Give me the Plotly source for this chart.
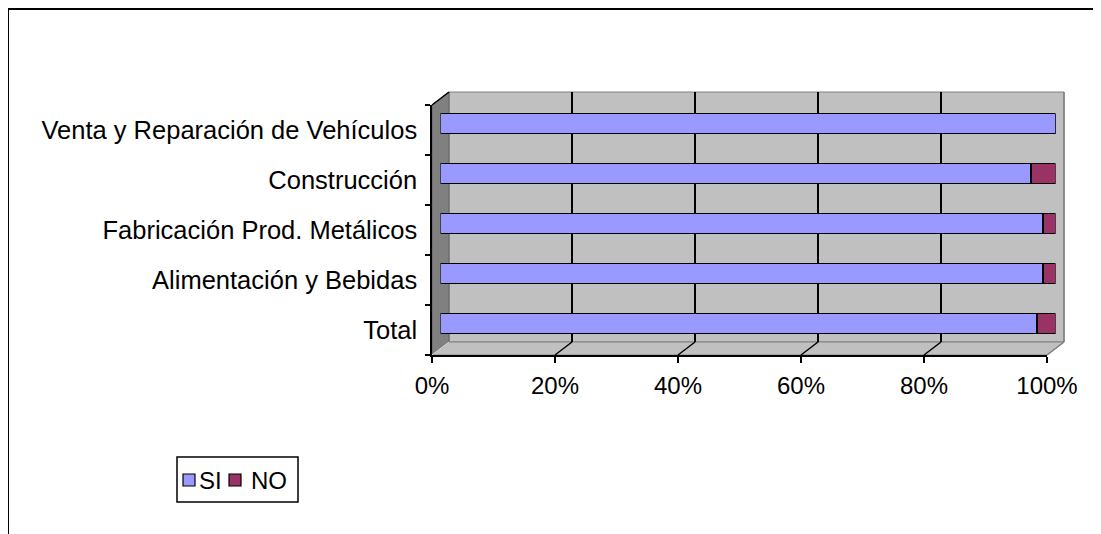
import plotly.graph_objects as go

categories = ["Total", "Alimentación y Bebidas", "Fabricación Prod. Metálicos",
              "Construcción", "Venta y Reparación de Vehículos"]
si_values = [97.0, 98.0, 98.0, 96.0, 100.0]
no_values = [3.0, 2.0, 2.0, 4.0, 0.0]
x_ticks = [0, 20, 40, 60, 80, 100]
x_tick_labels = ["0%", "20%", "40%", "60%", "80%", "100%"]
legend_names = ["SI", "NO"]
series_colors = ["#9999FF", "#993366"]

W, H = 1101, 534
OFF = 8  # page body margin
def px(x):
    return (x - OFF) / W
def py(y):
    return 1 - (y - OFF) / H

# geometry (screen pixels)
FX0, FX1, FY0, FY1 = 432, 1047, 105, 355   # front plane
DX, DY = 17, -13                           # depth offset
MX0, MX1 = FX0 + DX / 2, FX1 + DX / 2
MY0, MY1 = FY0 + DY / 2, FY1 + DY / 2
BX0, BX1, BY0, BY1 = FX0 + DX, FX1 + DX, FY0 + DY, FY1 + DY

FONT = "Liberation Sans, Arial, sans-serif"
FS = 24
fig = go.Figure()

# subplot 1: back wall grid ; subplot 2: front axes ; subplot 3: bars
fig.add_trace(go.Scatter(x=[None], y=[None], xaxis="x", yaxis="y", showlegend=False))
fig.add_trace(go.Scatter(x=[None], y=[None], xaxis="x2", yaxis="y2", showlegend=False))
for name, vals, col in zip(legend_names, [si_values, no_values], series_colors):
    fig.add_trace(go.Bar(y=categories, x=vals, name=name, orientation="h",
                         marker=dict(color=col, line=dict(color="black", width=1.6)),
                         width=0.4, xaxis="x3", yaxis="y3", showlegend=False))

shapes = []
# outer border
shapes.append(dict(type="rect", xref="paper", yref="paper", x0=px(8), x1=px(1130),
                   y0=py(580), y1=py(9), line=dict(color="black", width=2), layer="below"))
# back wall
shapes.append(dict(type="rect", xref="paper", yref="paper", x0=px(BX0), x1=px(BX1),
                   y0=py(BY1), y1=py(BY0), fillcolor="#C0C0C0",
                   line=dict(color="#808080", width=1), layer="below"))
# left wall
shapes.append(dict(type="path", xref="paper", yref="paper",
                   path=f"M {px(FX0)} {py(FY0)} L {px(BX0)} {py(BY0)} L {px(BX0)} {py(BY1)} L {px(FX0)} {py(FY1)} Z",
                   fillcolor="#808080", line=dict(color="#606060", width=1), layer="below"))
# floor
shapes.append(dict(type="path", xref="paper", yref="paper",
                   path=f"M {px(FX0)} {py(FY1)} L {px(FX1)} {py(FY1)} L {px(BX1)} {py(BY1)} L {px(BX0)} {py(BY1)} Z",
                   fillcolor="#C0C0C0", line=dict(color="#808080", width=1), layer="below"))
# floor diagonals at gridlines
for t in x_ticks[1:]:
    fx = FX0 + (FX1 - FX0) * t / 100
    col = "black" if t < 100 else "#808080"
    shapes.append(dict(type="line", xref="paper", yref="paper",
                       x0=px(fx), y0=py(FY1), x1=px(fx + DX), y1=py(FY1 + DY),
                       line=dict(color=col, width=1.5), layer="below"))
shapes.append(dict(type="line", xref="paper", yref="paper",
                   x0=px(FX0), y0=py(FY1), x1=px(BX0), y1=py(BY1),
                   line=dict(color="#E0E0E0", width=1), layer="below"))
# top-left diagonal edge
shapes.append(dict(type="line", xref="paper", yref="paper",
                   x0=px(FX0), y0=py(FY0), x1=px(BX0), y1=py(BY0),
                   line=dict(color="black", width=1.5)))
# right wall edge
shapes.append(dict(type="line", xref="paper", yref="paper",
                   x0=px(BX1), y0=py(BY0), x1=px(BX1), y1=py(BY1),
                   line=dict(color="#808080", width=1.5), layer="below"))

# custom legend box
LX0, LX1, LY0, LY1 = 177, 298, 457, 502
shapes.append(dict(type="rect", xref="paper", yref="paper", x0=px(LX0), x1=px(LX1),
                   y0=py(LY1), y1=py(LY0), line=dict(color="black", width=1.5),
                   fillcolor="white"))
legend_sq_x = [183, 229]
legend_tx_x = [197, 249]
annotations = []
for name, col, sx, tx in zip(legend_names, series_colors, legend_sq_x, legend_tx_x):
    shapes.append(dict(type="rect", xref="paper", yref="paper", x0=px(sx), x1=px(sx + 12),
                       y0=py(486), y1=py(474), fillcolor=col,
                       line=dict(color="black", width=1.2)))
    annotations.append(dict(text=name, xref="paper", yref="paper", x=px(tx), y=py(480),
                            xanchor="left", yanchor="middle", showarrow=False,
                            font=dict(family=FONT, size=FS, color="black")))

fig.update_layout(
    width=W, height=H,
    margin=dict(l=0, r=0, t=0, b=0),
    paper_bgcolor="white",
    plot_bgcolor="rgba(0,0,0,0)",
    barmode="stack",
    font=dict(family=FONT, size=FS, color="black"),
    shapes=shapes,
    annotations=annotations,
    showlegend=False,
    xaxis=dict(domain=[px(BX0), px(BX1)], range=[0, 100], dtick=20, tick0=0,
               showgrid=True, gridcolor="black", gridwidth=1.5, showticklabels=False,
               zeroline=False, ticks="", anchor="y", showline=False),
    yaxis=dict(domain=[py(BY1), py(BY0)], range=[0, 1], showgrid=False,
               showticklabels=False, zeroline=False, ticks="", anchor="x"),
    xaxis2=dict(domain=[px(FX0), px(FX1)], range=[0, 100], tickvals=x_ticks,
                ticktext=x_tick_labels, showgrid=False, zeroline=False,
                showline=True, linecolor="black", linewidth=1.5,
                ticks="outside", ticklen=6, tickcolor="black", tickwidth=1.5,
                anchor="y2", automargin=False, ticklabelstandoff=2,
                tickfont=dict(size=24)),
    yaxis2=dict(domain=[py(FY1), py(FY0)], type="category", categoryorder="array",
                categoryarray=categories, range=[-0.5, 4.5], tickson="boundaries",
                showgrid=False, zeroline=False, showline=True, linecolor="black",
                linewidth=1.5, ticks="outside", ticklen=5, tickcolor="black",
                tickwidth=1.5, anchor="x2", automargin=False, ticklabelstandoff=8,
                tickfont=dict(size=25.5)),
    xaxis3=dict(domain=[px(MX0), px(MX1)], range=[0, 100], visible=False,
                anchor="y3"),
    yaxis3=dict(domain=[py(MY1), py(MY0)], type="category", categoryorder="array",
                categoryarray=categories, range=[-0.5, 4.5], visible=False,
                anchor="x3"),
)

fig.write_html("out.html")
